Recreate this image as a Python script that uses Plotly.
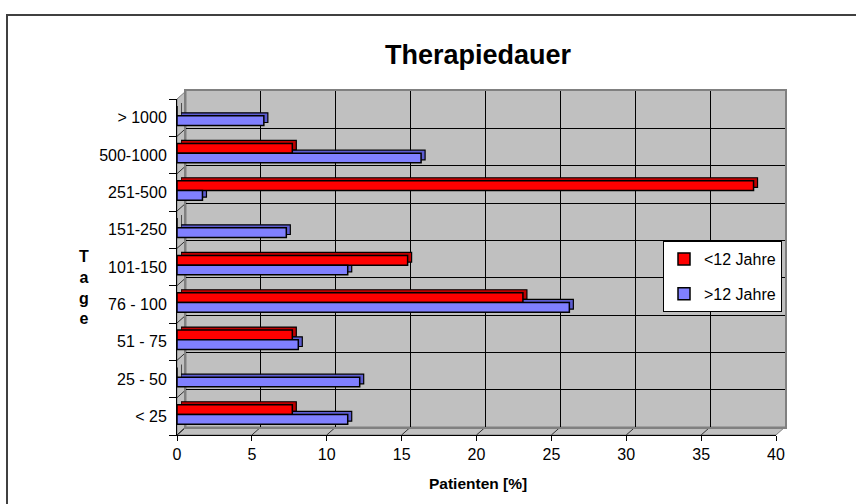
import plotly.graph_objects as go

W, H = 856, 504

categories = ["< 25", "25 - 50", "51 - 75", "76 - 100", "101-150",
              "151-250", "251-500", "500-1000", "> 1000"]
under12 = [7.7, 0, 7.7, 23.1, 15.4, 0, 38.5, 7.7, 0]
over12 = [11.4, 12.2, 8.1, 26.2, 11.4, 7.3, 1.7, 16.3, 5.8]
series_names = ["<12 Jahre", ">12 Jahre"]
x_ticks = [0, 5, 10, 15, 20, 25, 30, 35, 40]

FONT = "Liberation Sans, Arial, sans-serif"


def fx(px):
    return px / W


def fy(py):
    return 1 - py / H


# geometry (pixels)
FL, FR, FT, FB = 177, 776, 99, 435   # front frame
DX, DY = 9, 8                         # depth of the 3D box
BDX, BDY = 4, 3                        # depth of bars

RED, RED_D = "#ff0000", "#c00000"
BLUE, BLUE_D = "#8080ff", "#5c5cd0"
WALL = "#c0c0c0"

fig = go.Figure()

# empty trace so the back-wall subplot (grid) is drawn
fig.add_trace(go.Scatter(x=[None], y=[None], xaxis="x", yaxis="y",
                         showlegend=False, hoverinfo="skip"))

bar_w = 0.26
specs = [(under12, series_names[0], RED, RED_D, 0.05),
         (over12, series_names[1], BLUE, BLUE_D, 0.05 - bar_w)]

# depth (extrusion) bars
for vals, name, col, dcol, off in specs:
    fig.add_trace(go.Bar(
        y=categories, x=vals, orientation="h", name=name,
        marker=dict(color=dcol, line=dict(color="black", width=1.2)),
        offset=off, width=bar_w, xaxis="x2", yaxis="y2",
        showlegend=False, hoverinfo="skip"))

# front bars
for vals, name, col, dcol, off in specs:
    fig.add_trace(go.Bar(
        y=categories, x=vals, orientation="h", name=name,
        marker=dict(color=col, line=dict(color="black", width=1.5)),
        offset=off, width=bar_w, xaxis="x3", yaxis="y3",
        legendgroup=name))

shapes = []
# outer frame
shapes.append(dict(type="rect", xref="paper", yref="paper",
                   x0=fx(7), x1=fx(W + 20), y0=fy(15), y1=fy(H + 20),
                   line=dict(color="#404040", width=2), fillcolor="rgba(0,0,0,0)",
                   layer="below"))
# back wall
shapes.append(dict(type="rect", xref="paper", yref="paper",
                   x0=fx(FL + DX), x1=fx(FR + DX), y0=fy(FB - DY), y1=fy(FT - DY),
                   line=dict(width=0), fillcolor=WALL, layer="below"))
# floor
shapes.append(dict(type="path", xref="paper", yref="paper",
                   path=f"M {fx(FL)},{fy(FB)} L {fx(FR)},{fy(FB)} L {fx(FR+DX)},{fy(FB-DY)} "
                        f"L {fx(FL+DX)},{fy(FB-DY)} Z",
                   fillcolor=WALL, line=dict(color="#808080", width=1),
                   layer="below"))
# left side wall
shapes.append(dict(type="path", xref="paper", yref="paper",
                   path=f"M {fx(FL)},{fy(FB)} L {fx(FL)},{fy(FT)} L {fx(FL+DX)},{fy(FT-DY)} "
                        f"L {fx(FL+DX)},{fy(FB-DY)} Z",
                   fillcolor=WALL, line=dict(color="#808080", width=1),
                   layer="below"))
# floor diagonals at x ticks
for v in x_ticks:
    shapes.append(dict(type="line", xref="x3", xsizemode="pixel", xanchor=v,
                       x0=0, x1=DX, yref="paper", y0=fy(FB), y1=fy(FB - DY),
                       line=dict(color="#303030", width=1), layer="below"))
# side-wall diagonals at category boundaries
for k in range(len(categories) + 1):
    shapes.append(dict(type="line", yref="y3", ysizemode="pixel", yanchor=k - 0.5,
                       y0=0, y1=DY, xref="paper", x0=fx(FL), x1=fx(FL + DX),
                       line=dict(color="#303030", width=1), layer="below"))

annotations = [
    dict(text="<b>Therapiedauer</b>", x=fx(478), y=fy(55), xref="paper", yref="paper",
         showarrow=False, font=dict(size=27, color="black", family=FONT),
         xanchor="center", yanchor="middle"),
    dict(text="<b>Patienten [%]</b>", x=fx(478), y=fy(483), xref="paper", yref="paper",
         showarrow=False, font=dict(size=15.5, color="black", family=FONT),
         xanchor="center", yanchor="middle"),
    dict(text="<b>T<br>a<br>g<br>e</b>", x=fx(84), y=fy(287), xref="paper", yref="paper",
         showarrow=False, font=dict(size=16, color="black", family=FONT),
         xanchor="center", yanchor="middle"),
]

fig.update_layout(
    autosize=True, height=H,
    margin=dict(l=0, r=0, t=0, b=0, autoexpand=False),
    paper_bgcolor="white", plot_bgcolor="rgba(0,0,0,0)",
    font=dict(family=FONT, size=16, color="black"),
    barmode="overlay",
    shapes=shapes, annotations=annotations,
    # back wall
    xaxis=dict(domain=[fx(FL + DX), fx(FR + DX)], anchor="y", range=[0, 40],
               tickvals=x_ticks[1:-1], showticklabels=False, ticks="",
               showgrid=True, gridcolor="black", gridwidth=1, zeroline=False,
               showline=True, mirror=True, linecolor="#808080", linewidth=2,
               fixedrange=True),
    yaxis=dict(domain=[fy(FB - DY), fy(FT - DY)], anchor="x", range=[0, 9],
               tickvals=list(range(1, 9)), showticklabels=False, ticks="",
               showgrid=True, gridcolor="black", gridwidth=1, zeroline=False,
               showline=True, mirror=True, linecolor="#808080", linewidth=2,
               fixedrange=True),
    # depth bars
    xaxis2=dict(domain=[fx(FL + BDX), fx(FR + BDX)], anchor="y2", range=[0, 40],
                visible=False, fixedrange=True),
    yaxis2=dict(domain=[fy(FB - BDY), fy(FT - BDY)], anchor="x2", type="category",
                categoryorder="array", categoryarray=categories,
                range=[-0.5, len(categories) - 0.5], visible=False, fixedrange=True),
    # front
    xaxis3=dict(domain=[fx(FL), fx(FR)], anchor="y3", range=[0, 40],
                tickvals=x_ticks, ticks="outside", ticklen=5, tickcolor="black",
                showline=True, linecolor="black", linewidth=1, showgrid=False,
                zeroline=False, tickfont=dict(size=16), fixedrange=True),
    yaxis3=dict(domain=[fy(FB), fy(FT)], anchor="x3", type="category",
                categoryorder="array", categoryarray=categories,
                range=[-0.5, len(categories) - 0.5], tickson="boundaries",
                ticks="outside", ticklen=7, tickcolor="black", ticklabelstandoff=6,
                showline=True, linecolor="black", linewidth=1, showgrid=False,
                zeroline=False, tickfont=dict(size=16), fixedrange=True),
    legend=dict(x=fx(782), y=fy(241), xanchor="right", yanchor="top",
                bgcolor="white", bordercolor="black", borderwidth=1,
                font=dict(size=16, family=FONT), traceorder="grouped",
                tracegroupgap=11),
)

fig.write_html(
    "out.html",
    default_width="100%", default_height=f"{H}px",
    config={"displayModeBar": False, "responsive": True},
    post_script="document.body.style.margin='0';"
                "document.body.style.overflow='hidden';"
                "Plotly.Plots.resize('{plot_id}');")
